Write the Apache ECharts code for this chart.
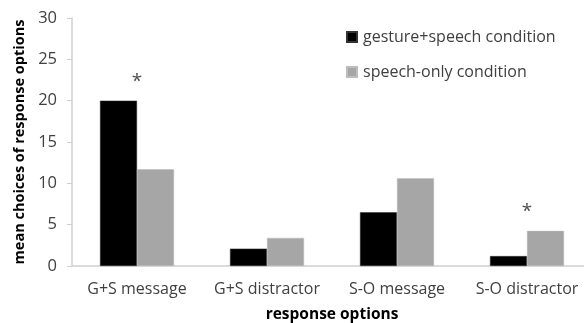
<!DOCTYPE html>
<html>
<head>
<meta charset="utf-8">
<script src="https://cdn.jsdelivr.net/npm/echarts@6/dist/echarts.min.js"></script>
<style>
  html, body { margin: 0; padding: 0; background: #fff; }
  #chart { width: 584px; height: 323px; }
</style>
</head>
<body>
<div id="chart"></div>
<script>
var categories = ['G+S message', 'G+S distractor', 'S-O message', 'S-O distractor'];
var gestureSpeech = [20, 2.1, 6.5, 1.2];
var speechOnly = [11.7, 3.4, 10.6, 4.25];
var stars = ['*', '', '', '*'];
var yTicks = [0, 5, 10, 15, 20, 25, 30];

var font = '"Open Sans", sans-serif';
var txt = '#404040';

// asterisk sits a little above the taller bar of each group
var starData = categories.map(function (c, i) {
  if (!stars[i]) return null;
  return { value: Math.max(gestureSpeech[i], speechOnly[i]) + 2.3, label: { formatter: stars[i] } };
});

var chart = echarts.init(document.getElementById('chart'));
chart.setOption({
  animation: false,
  textStyle: { fontFamily: font },
  grid: { left: 72, top: 18, width: 520, height: 248, containLabel: false, outerBoundsMode: 'none' },
  legend: {
    orient: 'vertical',
    left: 341,
    top: 24,
    itemWidth: 10,
    itemHeight: 10,
    itemGap: 19,
    icon: 'rect',
    data: ['gesture+speech condition', 'speech-only condition'],
    textStyle: { fontFamily: font, fontSize: 16, color: txt, padding: [0, 0, 0, 1] }
  },
  xAxis: {
    type: 'category',
    data: categories,
    name: 'response options',
    nameLocation: 'middle',
    nameGap: 41,
    nameTextStyle: { fontFamily: font, fontSize: 15.5, fontWeight: 'bold', color: '#000' },
    axisLine: { lineStyle: { color: '#d0d0d0', width: 1.5 } },
    axisTick: { show: false },
    axisLabel: { interval: 0, hideOverlap: false, fontFamily: font, fontSize: 16, color: txt, margin: 15 }
  },
  yAxis: {
    type: 'value',
    min: yTicks[0],
    max: yTicks[yTicks.length - 1],
    interval: 5,
    name: 'mean choices of response options',
    nameLocation: 'middle',
    nameGap: 40,
    nameTextStyle: { fontFamily: font, fontSize: 14.5, fontWeight: 'bold', color: '#000' },
    axisLine: { show: true, lineStyle: { color: '#d0d0d0', width: 1.5 } },
    axisTick: { show: true, inside: false, length: 5, lineStyle: { color: '#d0d0d0' } },
    splitLine: { show: false },
    axisLabel: { fontFamily: font, fontSize: 16.5, color: txt, margin: 15 }
  },
  series: [
    {
      name: 'gesture+speech condition',
      type: 'bar',
      data: gestureSpeech,
      barWidth: 37,
      barGap: '0%',
      itemStyle: { color: '#000', borderColor: '#333', borderWidth: 0.5 }
    },
    {
      name: 'speech-only condition',
      type: 'bar',
      data: speechOnly,
      barWidth: 37,
      itemStyle: { color: '#a6a6a6', borderColor: '#bdbdbd', borderWidth: 0.5 }
    },
    {
      type: 'scatter',
      data: starData,
      symbolSize: 0,
      silent: true,
      label: {
        show: true,
        position: 'inside',
        fontFamily: font,
        fontSize: 19,
        color: '#222'
      }
    }
  ]
});
</script>
</body>
</html>
